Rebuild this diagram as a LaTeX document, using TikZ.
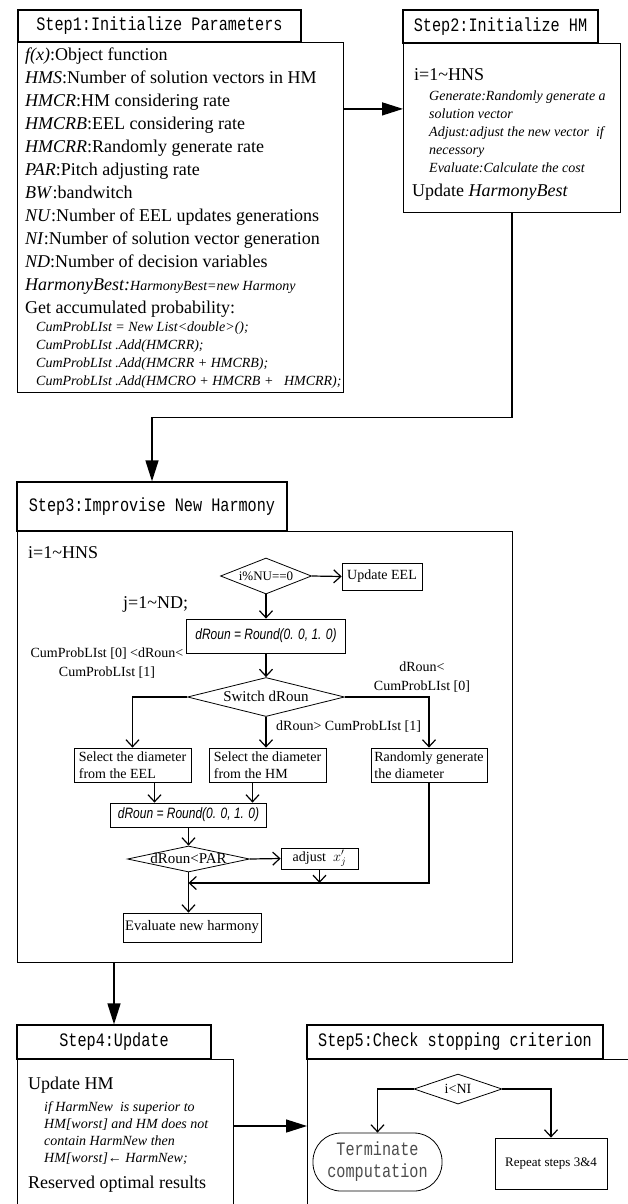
\documentclass[tikz,border=0pt]{standalone}
\usepackage{fontspec}
\setmainfont{Liberation Serif}
\newfontfamily\titlefont[FakeStretch=0.8]{Liberation Mono}
\newfontfamily\codefont[FakeStretch=0.8]{Liberation Sans}
\usetikzlibrary{positioning,shapes,arrows.meta}
\tikzstyle{steptitle} = [rectangle, draw=black, line width=1.3pt, inner sep=0pt, text centered, font=\titlefont\fontsize{19}{23}\selectfont]
\tikzstyle{stepbody} = [rectangle, draw=black, line width=1.3pt, inner sep=0pt, anchor=north west]
\tikzstyle{bodytext} = [inner sep=0pt, align=left, font=\fontsize{18}{23}\selectfont]
\tikzstyle{smalltext} = [inner sep=0pt, align=left, font=\fontsize{14}{18}\selectfont\itshape]
\tikzstyle{process} = [rectangle, draw=black, line width=0.8pt, inner sep=2pt, align=left, font=\fontsize{14}{17}\selectfont]
\tikzstyle{roundbox} = [process, font=\codefont\itshape\fontsize{15}{18}\selectfont]
\tikzstyle{decision} = [diamond, draw=black, line width=0.8pt, inner sep=0pt, text height=9pt, text depth=0pt, font=\fontsize{15}{17}\selectfont]
\tikzstyle{branch} = [inner sep=0pt, align=center, font=\fontsize{14}{19}\selectfont]
\tikzstyle{arrow} = [line width=1.2pt, -{Straight Barb[length=7pt,width=13pt]}]
\tikzstyle{bigarrow} = [line width=1.4pt, -{Triangle[length=21pt,width=13pt]}]

\begin{document}
\begin{tikzpicture}[x=1pt, y=-1pt]
\useasboundingbox (0,0) rectangle (628,1204);
\clip (0,0) rectangle (628,1204);

% Step1
\node (s1body) [stepbody, minimum width=326, minimum height=350] at (17,42) {};
\node (s1title) [steptitle, minimum width=283, minimum height=32] at (159.5,26) {Step1:Initialize Parameters};
\node (params) [bodytext, anchor=north west] at (25,47.5) {\textit{f(x)}:Object function\\
\textit{HMS}:Number of solution vectors in HM\\
\textit{HMCR}:HM considering rate\\
\textit{HMCRB}:EEL considering rate\\
\textit{HMCRR}:Randomly generate rate\\
\textit{PAR}:Pitch adjusting rate\\
\textit{BW}:bandwitch\\
\textit{NU}:Number of EEL updates generations\\
\textit{NI}:Number of solution vector generation\\
\textit{ND}:Number of decision variables\\
\textit{HarmonyBest:}{\fontsize{14}{18}\selectfont\textit{HarmonyBest=new Harmony}}\\
Get accumulated probability:};
\node (cumlist) [smalltext, anchor=north west] at (36,322) {CumProbLIst = New List<double>();\\
CumProbLIst .Add(HMCRR);\\
CumProbLIst .Add(HMCRR + HMCRB);\\
CumProbLIst .Add(HMCRO + HMCRB + \ \ HMCRR);};

% Step2
\node (s2body) [stepbody, minimum width=217, minimum height=169] at (403,43) {};
\node (s2title) [steptitle, minimum width=195, minimum height=33] at (500.5,26.5) {Step2:Initialize HM};
\node (hmloop) [bodytext, anchor=base west] at (414,81) {i=1\textasciitilde HNS};
\node (hmsteps) [smalltext, anchor=north west] at (429,91) {Generate:Randomly generate a\\
solution vector\\
Adjust:adjust the new vector \ if\\
necessory\\
Evaluate:Calculate the cost};
\node (hmbest) [bodytext, anchor=base west] at (412,196) {Update \textit{HarmonyBest}};
\draw [bigarrow] (s1body.east |- s2body.170) -- (s2body.170);

% Step3
\node (s3body) [stepbody, minimum width=495, minimum height=431] at (17,531) {};
\node (s3title) [steptitle, minimum width=270, minimum height=49] at (152,506.5) {Step3:Improvise New Harmony};
\draw [bigarrow] (s2body.south) -- ++(0,204) -| (s3title.north);
\node (iloop) [bodytext, anchor=base west] at (28,558) {i=1\textasciitilde HNS};
\node (jloop) [bodytext, anchor=base west] at (123,608) {j=1\textasciitilde ND;};
\node (nucheck) [decision, minimum width=91, minimum height=36, aspect=2.5, font=\fontsize{13}{15}\selectfont] at (266,576) {i\%NU==0};
\node (updeel) [process, minimum width=80, minimum height=27] at (382,576.5) {Update EEL};
\node (rnd1) [roundbox, minimum width=159, minimum height=34] at (266,636) {dRoun = Round(0. 0, 1. 0)};
\node (switch) [decision, minimum width=157, minimum height=39, aspect=4] at (266,697) {Switch dRoun};
\node (fromeel) [process, minimum width=117, minimum height=34] at (132.5,765) {Select the diameter\\from the EEL};
\node (fromhm) [process, minimum width=117, minimum height=34] at (267.5,765) {Select the diameter\\from the HM};
\node (randgen) [process, minimum width=116, minimum height=34] at (429,765) {Randomly generate\\the diameter};
\node (rnd2) [roundbox, minimum width=156, minimum height=24] at (188.5,815) {dRoun = Round(0. 0, 1. 0)};
\node (parcheck) [decision, minimum width=122, minimum height=26, aspect=5] at (188.5,859) {dRoun<PAR};
\node (adjx) [process, minimum width=77, minimum height=21] at (319.5,858.5) {adjust \ $x_j'$};
\node (evalnew) [process, minimum width=138, minimum height=29, font=\fontsize{14.5}{17}\selectfont] at (192,927.5) {Evaluate new harmony};
\coordinate (merge) at (188.5,883);
\node (lbleel) [branch] at (107,663) {CumProbLIst [0] <dRoun<\\CumProbLIst [1]};
\node (lblhm) [branch, anchor=west] at (276,727) {dRoun> CumProbLIst [1]};
\node (lblrnd) [branch] at (422,677) {dRoun<\\CumProbLIst [0]};
\draw [arrow] (nucheck.east) -- (updeel.west);
\draw [arrow] (nucheck.south) -- (rnd1.north);
\draw [arrow] (rnd1.south) -- (switch.north);
\draw [arrow] (switch.west) -| (fromeel.north);
\draw [arrow] (switch.south) -- (switch.south |- fromhm.north);
\draw [arrow] (switch.east) -| (randgen.north);
\draw [arrow] ([xshift=22pt]fromeel.south) -- ([xshift=22pt]fromeel.south |- rnd2.north);
\draw [arrow] ([xshift=-15pt]fromhm.south) -- ([xshift=-15pt]fromhm.south |- rnd2.north);
\draw [arrow] (rnd2.south) -- (parcheck.north);
\draw [arrow] (parcheck.east) -- (adjx.west);
\draw [arrow] (adjx.south) -- (adjx.south |- merge);
\draw [arrow] (randgen.south) |- (merge);
\draw [arrow] (parcheck.south) -- (parcheck.south |- evalnew.north);

% Step4
\node (s4body) [stepbody, minimum width=216, minimum height=200] at (17,1059) {};
\node (s4title) [steptitle, minimum width=194, minimum height=34] at (114,1042) {Step4:Update};
\draw [bigarrow] (s3body.south -| s4title.north) -- (s4title.north);
\node (updhm) [bodytext, anchor=base west] at (28,1089) {Update HM};
\node (updrule) [smalltext, anchor=north west, font=\fontsize{14}{17}\selectfont\itshape] at (44,1101) {if HarmNew \ is superior to\\
HM[worst] and HM does not\\
contain HarmNew then\\
HM[worst]← HarmNew;};
\node (keepbest) [bodytext, anchor=base west] at (28,1188) {Reserved optimal results};

% Step5
\node (s5body) [stepbody, minimum width=400, minimum height=200] at (307,1059) {};
\node (s5title) [steptitle, minimum width=296, minimum height=34] at (455,1042) {Step5:Check stopping criterion};
\coordinate (updout) at (0,1126);
\draw [bigarrow] (s4body.east |- updout) -- (s5body.west |- updout);
\node (ltni) [decision, minimum width=88, minimum height=30, aspect=3, font=\fontsize{14}{16}\selectfont] at (458,1089) {i<NI};
\node (term) [rectangle, draw=black, line width=0.8pt, rounded corners=28pt, minimum width=129, minimum height=58, align=center, text=black!70, font=\titlefont\fontsize{19}{22}\selectfont] at (377.5,1162) {Terminate\\computation};
\node (again) [process, minimum width=112, minimum height=51, font=\fontsize{13}{15}\selectfont] at (551,1163.5) {Repeat steps 3\&4};
\draw [arrow] (ltni.west) -| (term.north);
\draw [arrow] (ltni.east) -| (again.north);
\end{tikzpicture}
\end{document}
